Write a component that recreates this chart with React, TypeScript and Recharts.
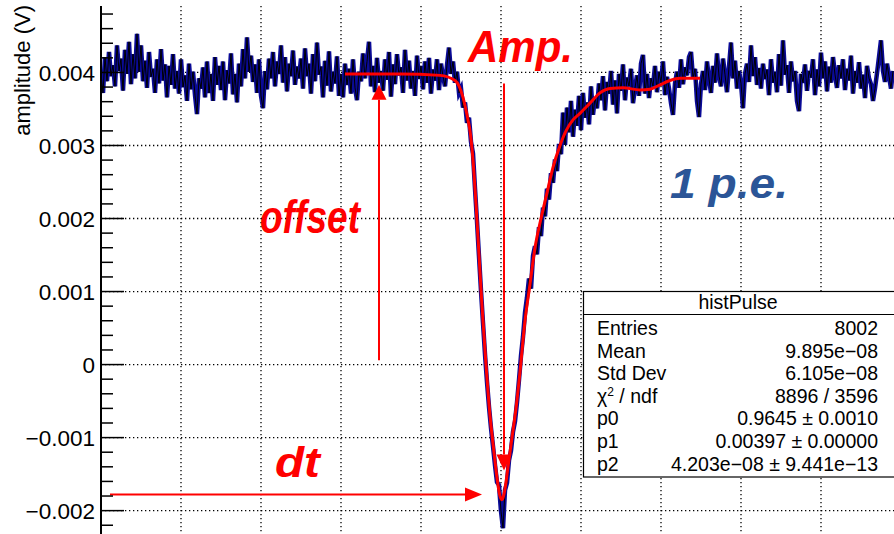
import React from "react";
import { LineChart, Line, XAxis, YAxis, ReferenceLine } from "recharts";

// sampled pulse, 0.5 ns per sample, amplitude in units of 10 uV
const SAMPLE_NS = 0.5;
const pulseRaw = [
  398, 372, 421, 388, 428, 395, 410, 381, 437, 402, 419, 375, 431, 398, 442, 384, 425, 392, 453, 401,
  437, 388, 416, 379, 428, 394, 405, 372, 418, 385, 432, 389, 411, 366, 409, 383, 425, 378, 402, 371,
  418, 380, 396, 361, 412, 377, 401, 369, 343, 392, 378, 407, 366, 415, 372, 398, 361, 421, 383, 409,
  376, 415, 362, 403, 385, 426, 370, 398, 359, 412, 381, 432, 392, 448, 401, 423, 387, 411, 372, 418,
  368, 351, 402, 377, 419, 392, 428, 381, 415, 398, 437, 386, 421, 374, 412, 395, 430, 383, 408, 392,
  419, 378, 433, 395, 412, 371, 425, 388, 441, 397, 408, 366, 416, 382, 429, 374, 401, 385, 422, 368,
  398, 366, 412, 383, 405, 371, 418, 379, 362, 401, 388, 426, 392, 415, 442, 381, 409, 373, 420, 386,
  402, 375, 418, 390, 428, 367, 411, 384, 425, 396, 407, 372, 431, 389, 416, 378, 402, 368, 423, 391,
  409, 377, 415, 386, 420, 371, 404, 389, 418, 376, 412, 395, 381, 410, 434, 398, 415, 386, 401, 372,
  378, 352, 359, 331, 338, 305, 289, 241, 196, 148, 101, 57, 14, -24, -58, -87, -112, -138, -161, -165,
  -201, -224, -172, -162, -131, -118, -92, -78, -52, -21,
  12, 38, 71, 92, 118, 104, 149, 162, 151, 188, 176, 215, 203, 241, 226, 262, 249, 281, 265, 302,
  288, 345, 301, 352, 318, 361, 312, 349, 327, 368, 321, 372, 338, 359, 329, 381, 342, 366, 351, 385,
  362, 395, 348, 387, 371, 402, 356, 389, 344, 398, 375, 411, 362, 393, 381, 405, 358, 379, 396, 368,
  412, 424, 371, 398, 365, 392, 381, 409, 373, 401, 386, 415, 369, 394, 378, 358, 342, 385, 401, 379,
  418, 384, 407, 396, 421, 428, 392, 405, 361, 339, 384, 402, 376, 415, 391, 372, 409, 386, 426, 395,
  381, 419, 397, 373, 408, 441, 392, 416, 378, 402, 385, 351, 398, 412, 387, 437, 395, 421, 383, 406,
  378, 412, 391, 404, 369, 418, 386, 401, 373, 425, 382, 444, 397, 410, 372, 415, 388, 402, 361, 347,
  398, 386, 411, 375, 402, 393, 418, 369, 404, 381, 427, 392, 415, 374, 408, 386, 421, 397, 379, 410,
  392, 418, 376, 405, 389, 423, 371, 402, 386, 414, 378, 397, 365, 409, 392, 384, 361, 378, 399, 421,
  444, 402, 387, 412, 395, 378, 402,
];

// fitted pulse shape
const fitT = [
  61, 74.75, 84.75, 88.5, 90.5, 91.75, 92.25, 93, 93.75, 94.5, 95.25, 96.25, 97.25, 98.25, 99, 99.75,
  100.25, 101, 101.75, 102.75, 103.75, 104.75, 106, 107.25, 108.5, 110, 111.5, 113, 114.75, 116.25,
  118, 119.75, 122.25, 124.75, 127.25, 130.5, 134.75, 137.25, 139.75, 142.25, 144.75, 149.75,
];
const fitV = [
  0.00398, 0.00398, 0.00396, 0.00389, 0.00366, 0.00335, 0.0032, 0.0028, 0.0022, 0.0015, 0.0008, 0.0,
  -0.0007, -0.0012, -0.00155, -0.0018, -0.00185, -0.0017, -0.0014, -0.001, -0.0006, -0.0001, 0.0006,
  0.0011, 0.0016, 0.002, 0.00235, 0.0027, 0.003, 0.0032, 0.00335, 0.00344, 0.00358, 0.00372, 0.00378,
  0.00379, 0.00376, 0.00377, 0.00383, 0.00389, 0.00392, 0.00392,
];

const yTicks = [
  -0.0022, -0.002, -0.0018, -0.0016, -0.0014, -0.0012, -0.001, -0.0008, -0.0006, -0.0004, -0.0002, 0,
  0.0002, 0.0004, 0.0006, 0.0008, 0.001, 0.0012, 0.0014, 0.0016, 0.0018, 0.002, 0.0022, 0.0024, 0.0026,
  0.0028, 0.003, 0.0032, 0.0034, 0.0036, 0.0038, 0.004, 0.0042, 0.0044, 0.0046, 0.0048,
];
const yGrid = [-0.002, -0.001, 0, 0.001, 0.002, 0.003, 0.004];
const xGrid = [20, 40, 60, 80, 100, 120, 140, 160, 180];

const statsRows = [
  ["Entries", "8002"],
  ["Mean", "9.895e\u221208"],
  ["Std Dev", "6.105e\u221208"],
  ["chi2", "8896 / 3596"],
  ["p0", "0.9645 \u00b1 0.0010"],
  ["p1", "0.00397 \u00b1 0.00000"],
  ["p2", "4.203e\u221208 \u00b1 9.441e\u221213"],
];

const pulseData = pulseRaw.map((n, i) => ({ t: i * SAMPLE_NS, v: n / 1e5 }));
const fitData = fitT.map((t, i) => ({ t, v: fitV[i] }));

const FONT = "'Liberation Sans', Arial, Helvetica, sans-serif";
const RED = "#ff0000";

const fmt = (v: number) => (v === 0 ? "0" : (v < 0 ? "\u2212" : "") + Math.abs(v).toFixed(3));

function YTick(props: any) {
  const { x, y, payload } = props;
  const v = payload.value;
  const major = Math.abs(v * 1000 - Math.round(v * 1000)) < 1e-6;
  return (
    <g>
      <line x1={x} x2={x + (major ? 23 : 12)} y1={y} y2={y} stroke="#000" strokeWidth={1.5} />
      {major && (
        <text x={x - 6} y={y} dy="0.36em" textAnchor="end" fontSize={22.5} fontFamily={FONT} fill="#000">
          {fmt(v)}
        </text>
      )}
    </g>
  );
}

const arrow = (head: number, half: number) => (p: any) => {
  const { x1, y1, x2, y2 } = p;
  const len = Math.hypot(x2 - x1, y2 - y1) || 1;
  const ux = (x2 - x1) / len;
  const uy = (y2 - y1) / len;
  const bx = x2 - ux * head;
  const by = y2 - uy * head;
  return (
    <g>
      <line x1={x1} y1={y1} x2={bx} y2={by} stroke={RED} strokeWidth={2} />
      <polygon
        points={`${x2},${y2} ${bx - uy * half},${by + ux * half} ${bx + uy * half},${by - ux * half}`}
        fill={RED}
      />
    </g>
  );
};

const grid = { stroke: "#000", strokeWidth: 1.3, strokeDasharray: "1.3 2.7" };

export default function App() {
  return (
    <div style={{ position: "absolute", left: 0, top: 0, width: 894, height: 534, background: "#fff" }}>
      <LineChart width={894} height={534} data={pulseData} margin={{ top: 6, right: 0, bottom: 0, left: 0 }}>
        <XAxis
          dataKey="t"
          type="number"
          orientation="top"
          domain={[0, 198.25]}
          allowDataOverflow
          height={0}
          tick={false}
          tickLine={false}
          axisLine={{ stroke: "#000", strokeWidth: 2 }}
        />
        <YAxis
          type="number"
          domain={[-0.00232, 0.00491]}
          allowDataOverflow
          width={101}
          ticks={yTicks}
          interval={0}
          tickSize={0}
          tickMargin={0}
          tickLine={false}
          tick={<YTick />}
          axisLine={{ stroke: "#000", strokeWidth: 2 }}
          label={{
            content: () => (
              <text
                x={30}
                y={5}
                transform="rotate(-90 30 5)"
                textAnchor="end"
                fontSize={22}
                fontFamily={FONT}
                fill="#000"
              >
                amplitude (V)
              </text>
            ),
          }}
        />
        {yGrid.map((v) => (
          <ReferenceLine key={"h" + v} y={v} {...grid} />
        ))}
        {xGrid.map((v) => (
          <ReferenceLine key={"v" + v} x={v} {...grid} />
        ))}
        <Line dataKey="v" type="linear" stroke="#0a0a96" strokeWidth={4.5} dot={false} isAnimationActive={false} />
        <Line dataKey="v" type="linear" stroke="#000" strokeWidth={1} dot={false} isAnimationActive={false} />
        <Line
          data={fitData}
          dataKey="v"
          type="monotone"
          stroke={RED}
          strokeWidth={3}
          dot={false}
          isAnimationActive={false}
        />
        <ReferenceLine segment={[{ x: 69.5, y: 0.00006 }, { x: 69.5, y: 0.00383 }]} shape={arrow(15, 7.5)} />
        <ReferenceLine segment={[{ x: 100.75, y: 0.00385 }, { x: 100.75, y: -0.00145 }]} shape={arrow(16, 7.5)} />
        <ReferenceLine segment={[{ x: 2.25, y: -0.00178 }, { x: 95.25, y: -0.00178 }]} shape={arrow(17, 7)} />
      </LineChart>
      <svg
        width={894}
        height={534}
        style={{ position: "absolute", left: 0, top: 0, pointerEvents: "none" }}
        fontFamily={FONT}
      >
        <g fontWeight="bold" fontStyle="italic" fill={RED}>
          <text x={468} y={62} fontSize={44} textLength={105} lengthAdjust="spacingAndGlyphs">Amp.</text>
          <text x={260} y={233} fontSize={46} textLength={100} lengthAdjust="spacingAndGlyphs">offset</text>
          <text x={275} y={477} fontSize={42} textLength={45} lengthAdjust="spacingAndGlyphs">dt</text>
          <text x={670} y={198} fontSize={42} textLength={118} lengthAdjust="spacingAndGlyphs" fill="#2b5597">
            1 p.e.
          </text>
        </g>
        <rect x={583.5} y={291.5} width={320} height={185.5} fill="#fff" stroke="#000" strokeWidth={1.2} />
        <line x1={583.5} x2={894} y1={314.5} y2={314.5} stroke="#000" strokeWidth={1.2} />
        <text x={738} y={309} textAnchor="middle" fontSize={19.5} fill="#000">histPulse</text>
        {statsRows.map(([k, val], i) => (
          <g key={k} fontSize={19.5} fill="#000">
            <text x={597} y={335 + i * 22.6}>
              {k === "chi2" ? (
                <>
                  {"\u03c7"}
                  <tspan dy={-7} fontSize={12}>2</tspan>
                  <tspan dy={7}>{" / ndf"}</tspan>
                </>
              ) : (
                k
              )}
            </text>
            <text x={878} y={335 + i * 22.6} textAnchor="end">{val}</text>
          </g>
        ))}
      </svg>
    </div>
  );
}
